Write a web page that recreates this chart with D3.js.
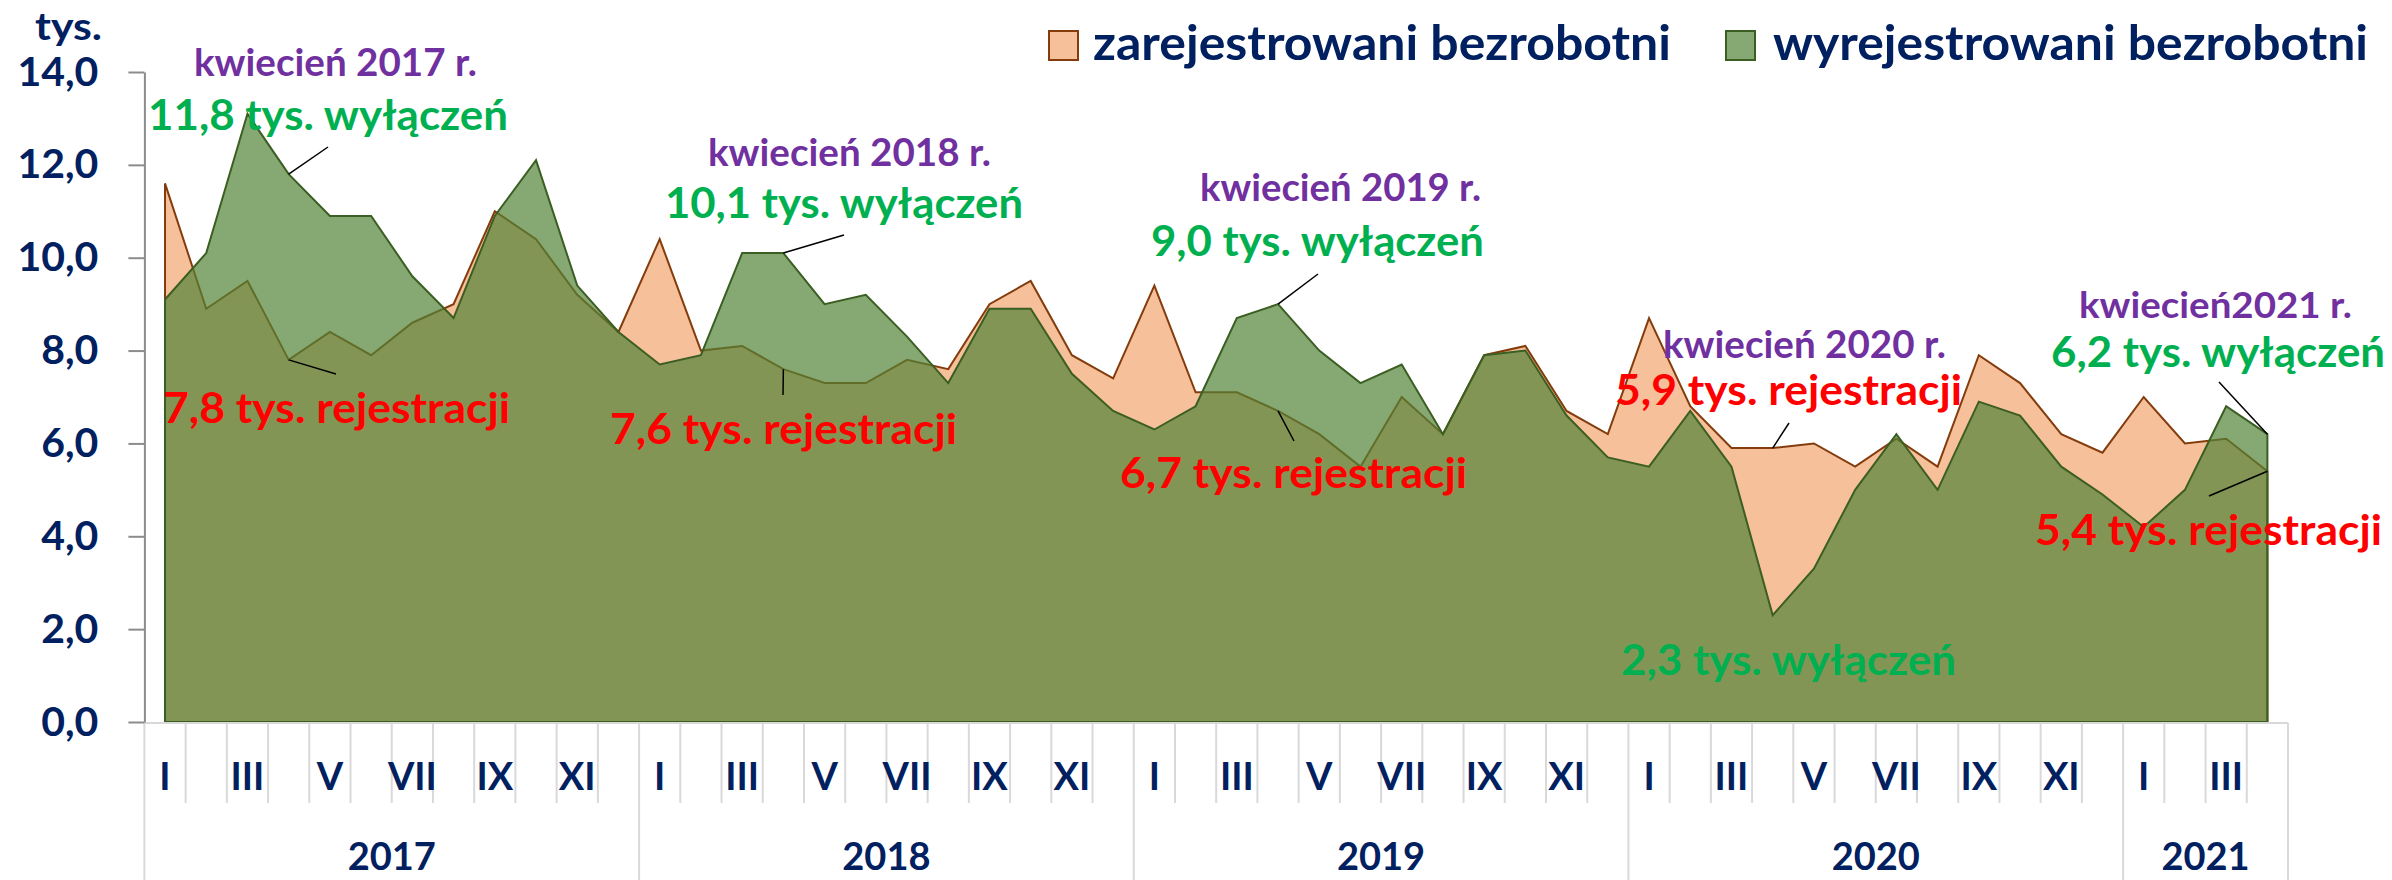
<!DOCTYPE html>
<html>
<head lang="pl">
    <meta charset="UTF-8">
    <title></title>
    <script src="https://cdn.jsdelivr.net/npm/d3@7"></script>
    <style>
        body{margin:0;background:#fff;}
        text{font-family:Lato,"Open Sans",sans-serif;font-weight:700;}
    </style>
</head>
<body>
<script>
    var months=["I","II","III","IV","V","VI","VII","VIII","IX","X","XI","XII"];
    var years=["2017","2018","2019","2020","2021"];
    var monthsPerYear=[12,12,12,12,4];
    // tys. osób, I 2017 - IV 2021
    var zarejestrowani=[
        11.6,8.9,9.5,7.8,8.4,7.9,8.6,9.0,11.0,10.4,9.2,8.4,
        10.4,8.0,8.1,7.6,7.3,7.3,7.8,7.6,9.0,9.5,7.9,7.4,
        9.4,7.1,7.1,6.7,6.2,5.5,7.0,6.2,7.9,8.1,6.7,6.2,
        8.7,6.8,5.9,5.9,6.0,5.5,6.1,5.5,7.9,7.3,6.2,5.8,
        7.0,6.0,6.1,5.4
    ];
    var wyrejestrowani=[
        9.1,10.1,13.1,11.8,10.9,10.9,9.6,8.7,10.9,12.1,9.4,8.4,
        7.7,7.9,10.1,10.1,9.0,9.2,8.3,7.3,8.9,8.9,7.5,6.7,
        6.3,6.8,8.7,9.0,8.0,7.3,7.7,6.2,7.9,8.0,6.6,5.7,
        5.5,6.7,5.5,2.3,3.3,5.0,6.2,5.0,6.9,6.6,5.5,4.9,
        4.2,5.0,6.8,6.2
    ];
    var yTicks=[0,2,4,6,8,10,12,14];
    var seriesNames=["zarejestrowani bezrobotni","wyrejestrowani bezrobotni"];

    // annotations: text lines + leader line from data point
    var notes=[
        {t:"kwiecień 2017 r.",c:"#7030A0",x:194,y:76,w:283,fs:38},
        {t:"11,8 tys. wyłączeń",c:"#00B050",x:148,y:130,w:360,fs:42},
        {t:"7,8 tys. rejestracji",c:"#FF0000",x:163,y:423,w:347,fs:42},
        {t:"kwiecień 2018 r.",c:"#7030A0",x:708,y:166,w:283,fs:38},
        {t:"10,1 tys. wyłączeń",c:"#00B050",x:665,y:218,w:358,fs:42},
        {t:"7,6 tys. rejestracji",c:"#FF0000",x:610,y:444,w:347,fs:42},
        {t:"kwiecień 2019 r.",c:"#7030A0",x:1200,y:201,w:281,fs:38},
        {t:"9,0 tys. wyłączeń",c:"#00B050",x:1151,y:256,w:333,fs:42},
        {t:"6,7 tys. rejestracji",c:"#FF0000",x:1120,y:488,w:347,fs:42},
        {t:"kwiecień 2020 r.",c:"#7030A0",x:1663,y:358,w:283,fs:38},
        {t:"5,9 tys. rejestracji",c:"#FF0000",x:1615,y:405,w:347,fs:42},
        {t:"2,3 tys. wyłączeń",c:"#00B050",x:1621,y:675,w:335,fs:42},
        {t:"kwiecień2021 r.",c:"#7030A0",x:2079,y:318,w:273,fs:36},
        {t:"6,2 tys. wyłączeń",c:"#00B050",x:2051,y:367,w:334,fs:42},
        {t:"5,4 tys. rejestracji",c:"#FF0000",x:2035,y:545,w:347,fs:42}
    ];
    var leaders=[
        {s:1,i:3,x2:328,y2:147},
        {s:0,i:3,x2:336,y2:374},
        {s:1,i:15,x2:844,y2:235},
        {s:0,i:15,x2:783,y2:395},
        {s:1,i:27,x2:1318,y2:274},
        {s:0,i:27,x2:1294,y2:441},
        {s:0,i:39,x2:1789,y2:423},
        {s:1,i:51,x2:2219,y2:382},
        {s:0,i:51,x2:2209,y2:496}
    ];

    var categories=[];
    years.forEach(function(yr,k){
        for(var m=0;m<monthsPerYear[k];m++){
            categories.push({year:yr,month:m,label:months[m]});
        }
    });

    var _svg=d3.select('body')
            .append('svg')
            .attr('width',2392)
            .attr('height',880);

    var x=d3.scaleBand()
            .domain(d3.range(categories.length))
            .range([144.4,2288])
            .padding(0);
    var bw=x.bandwidth();
    var cx=function(i){return x(i)+bw/2;};
    var y=d3.scaleLinear()
            .domain([0,14])
            .range([722,72]);

    var _area=d3.area()
            .x(function(d,i){return cx(i);})
            .y0(y(0))
            .y1(function(d){return y(d);});

    _svg.append('path')
            .attr('d',_area(zarejestrowani))
            .attr('fill','#F5C09A')
            .attr('stroke','#843C0C')
            .attr('stroke-width',2);
    _svg.append('path')
            .attr('d',_area(wyrejestrowani))
            .attr('fill','rgb(82,131,54)')
            .attr('fill-opacity',0.7)
            .attr('stroke','#3B5E22')
            .attr('stroke-width',2);

    // category axis
    var _gx=_svg.append('g');
    _gx.append('line')
            .attr('x1',144.4).attr('x2',2288)
            .attr('y1',723).attr('y2',723)
            .attr('stroke','#D9D9D9').attr('stroke-width',2);
    d3.range(categories.length+1).forEach(function(i){
        var xx=144.4+i*bw;
        var full=(i==categories.length)||(i<categories.length&&categories[i].month==0);
        _gx.append('line')
                .attr('x1',xx).attr('x2',xx)
                .attr('y1',723).attr('y2',full?880:803)
                .attr('stroke','#D9D9D9').attr('stroke-width',2);
    });
    _gx.selectAll('.mlab')
            .data(categories)
            .enter()
            .append('text')
            .attr('class','mlab')
            .filter(function(d){return d.month%2==0;})
            .attr('x',function(d){return cx(categories.indexOf(d));})
            .attr('y',790)
            .attr('text-anchor','middle')
            .attr('font-size',38)
            .attr('fill','#002060')
            .text(function(d){return d.label;});
    var start=0;
    years.forEach(function(yr,k){
        var mid=144.4+(start+monthsPerYear[k]/2)*bw;
        _gx.append('text')
                .attr('x',mid)
                .attr('y',870)
                .attr('text-anchor','middle')
                .attr('font-size',38)
                .attr('fill','#002060')
                .text(yr);
        start+=monthsPerYear[k];
    });

    // value axis
    var _gy=_svg.append('g')
            .attr('transform','translate(144.4,0)')
            .call(d3.axisLeft(y)
                    .tickValues(yTicks)
                    .tickSize(16)
                    .tickSizeOuter(0)
                    .tickPadding(30)
                    .tickFormat(function(d){return d3.format('.1f')(d).replace('.',',');}));
    _gy.select('.domain').attr('stroke','#8C8C8C').attr('stroke-width',2);
    _gy.selectAll('.tick line').attr('stroke','#8C8C8C').attr('stroke-width',2);
    _gy.selectAll('.tick text')
            .attr('font-size',41)
            .attr('font-family','Lato')
            .attr('font-weight',700)
            .attr('fill','#002060');
    _svg.append('text')
            .attr('x',102).attr('y',40)
            .attr('text-anchor','end')
            .attr('font-size',38)
            .attr('fill','#002060')
            .attr('textLength',67)
            .attr('lengthAdjust','spacingAndGlyphs')
            .text('tys.');

    // leader lines
    var series=[zarejestrowani,wyrejestrowani];
    _svg.selectAll('.leader')
            .data(leaders)
            .enter()
            .append('line')
            .attr('class','leader')
            .attr('x1',function(d){return cx(d.i);})
            .attr('y1',function(d){return y(series[d.s][d.i]);})
            .attr('x2',function(d){return d.x2;})
            .attr('y2',function(d){return d.y2;})
            .attr('stroke','#000')
            .attr('stroke-width',1.5);

    _svg.selectAll('.note')
            .data(notes)
            .enter()
            .append('text')
            .attr('class','note')
            .attr('x',function(d){return d.x;})
            .attr('y',function(d){return d.y;})
            .attr('font-size',function(d){return d.fs;})
            .attr('fill',function(d){return d.c;})
            .attr('textLength',function(d){return d.w;})
            .attr('lengthAdjust','spacingAndGlyphs')
            .text(function(d){return d.t;});

    // legend
    var legend=[
        {name:seriesNames[0],fill:'#F5C09A',stroke:'#843C0C',bx:1049,tx:1093,w:578},
        {name:seriesNames[1],fill:'#86A872',stroke:'#3B5E22',bx:1726,tx:1773,w:595}
    ];
    var _gl=_svg.selectAll('.legend')
            .data(legend)
            .enter()
            .append('g')
            .attr('class','legend');
    _gl.append('rect')
            .attr('x',function(d){return d.bx;})
            .attr('y',31)
            .attr('width',29)
            .attr('height',29)
            .attr('fill',function(d){return d.fill;})
            .attr('stroke',function(d){return d.stroke;})
            .attr('stroke-width',2);
    _gl.append('text')
            .attr('x',function(d){return d.tx;})
            .attr('y',60)
            .attr('font-size',48)
            .attr('fill','#002060')
            .attr('textLength',function(d){return d.w;})
            .attr('lengthAdjust','spacingAndGlyphs')
            .text(function(d){return d.name;});
</script>
</body>
</html>
